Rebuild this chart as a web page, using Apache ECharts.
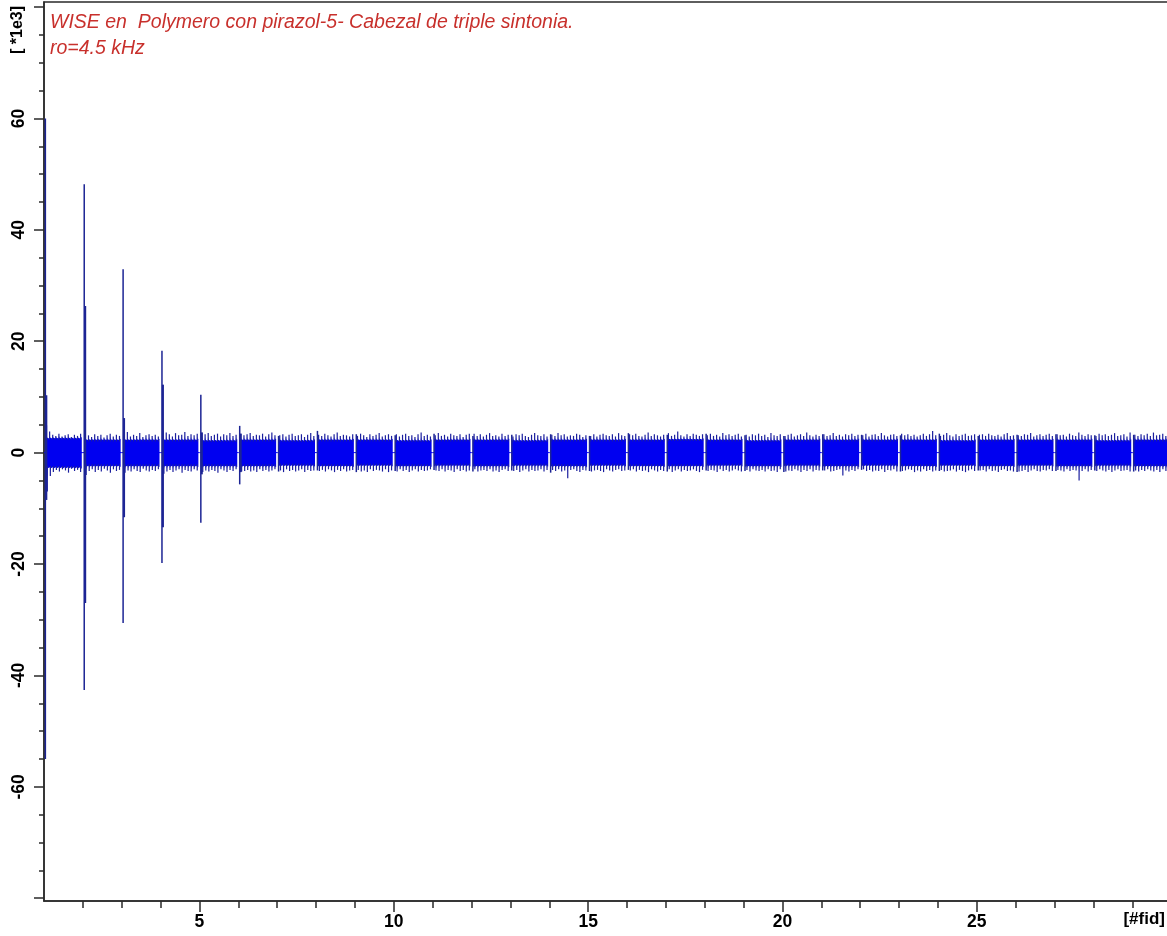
<!DOCTYPE html>
<html>
<head>
<meta charset="utf-8">
<script src="https://cdn.jsdelivr.net/npm/echarts@6/dist/echarts.min.js"></script>
<style>
  html, body { margin: 0; padding: 0; background: #ffffff; }
  #chart { width: 1167px; height: 936px; }
</style>
</head>
<body>
<div id="chart"></div>
<script>
// Serial FID display: 29 WISE FIDs laid side by side, amplitude in units of 1e3.
const titleLines = ['WISE en  Polymero con pirazol-5- Cabezal de triple sintonia.', 'ro=4.5 kHz'];
const xName = '[#fid]';
const yName = '[ *1e3]';

const fidCount = 29;
const xTickLabels = [5, 10, 15, 20, 25];
const yTickLabels = [-60, -40, -20, 0, 20, 40, 60];

// Echo spike at the start of each FID (max / min)
const startHigh = [60.0, 48.2, 32.9, 18.3, 10.4, 4.8, 3.0, 3.9, 3.3, 3.1, 3.4, 3.0, 3.2, 3.3, 3.0, 3.5,
                   3.2, 3.4, 3.1, 3.0, 3.3, 3.2, 3.1, 3.4, 3.0, 3.2, 3.3, 3.1, 3.2];
const startLow  = [-55.0, -42.6, -30.6, -19.8, -12.6, -5.7, -3.4, -3.2, -3.5, -3.3, -3.1, -3.4, -3.2, -3.6, -3.3, -3.1,
                   -3.4, -3.2, -3.3, -3.5, -3.2, -3.1, -3.4, -3.3, -3.2, -3.5, -3.3, -3.2, -3.4];
// Second point of the echo, just after the first
const secondHigh = [10.3, 26.3, 6.2, 12.2, 3.6, 3.4];
const secondLow  = [-8.5, -27.0, -11.6, -13.4, -3.9, -3.5];

// Solid noise band of each FID
const bandHigh = [2.8, 2.5, 2.5, 2.5, 2.4, 2.5, 2.4, 2.5, 2.5, 2.4, 2.5, 2.5, 2.4, 2.5, 2.5, 2.5,
                  2.6, 2.5, 2.4, 2.5, 2.5, 2.5, 2.5, 2.4, 2.5, 2.5, 2.5, 2.4, 2.5];
const bandLow  = [-2.9, -2.6, -2.6, -2.6, -2.6, -2.6, -2.5, -2.6, -2.5, -2.6, -2.5, -2.6, -2.5, -2.6, -2.5, -2.6,
                  -2.6, -2.5, -2.6, -2.5, -2.6, -2.5, -2.6, -2.5, -2.6, -2.5, -2.6, -2.5, -2.6];

// Noise peaks poking above / below the band, 12 per FID
const upperPeaks = [
  [4.9,3.8,3.2,3.0,3.4,2.9,3.1,3.3,2.8,3.2,3.0,3.4],
  [3.6,3.1,2.8,3.3,3.0,3.2,2.7,3.1,3.4,2.9,3.2,3.0],
  [3.3,3.7,2.9,3.2,3.0,3.5,2.8,3.1,3.3,3.0,3.2,2.9],
  [4.0,3.6,3.3,2.9,3.5,3.1,3.2,3.7,3.0,3.3,3.1,3.4],
  [3.6,3.3,3.5,3.0,3.2,3.4,2.9,3.3,3.1,3.5,3.0,3.2],
  [3.4,3.1,3.3,3.5,3.0,3.2,3.1,3.4,2.9,3.3,3.6,3.1],
  [3.1,3.3,2.9,3.2,3.4,3.0,3.1,3.3,2.8,3.2,3.5,3.0],
  [3.2,3.0,3.4,3.1,2.9,3.3,3.6,3.0,3.2,3.1,2.9,3.3],
  [3.0,3.4,3.1,2.8,3.3,3.0,3.2,3.5,2.9,3.1,3.3,3.0],
  [3.3,2.9,3.2,3.4,3.0,3.1,2.8,3.3,3.6,3.0,3.2,2.9],
  [3.1,3.5,3.0,3.2,2.9,3.4,3.1,3.0,3.3,2.8,3.2,3.4],
  [3.4,3.0,3.3,2.9,3.2,3.5,3.0,3.1,2.9,3.4,3.0,3.2],
  [2.9,3.3,3.1,3.4,3.0,2.8,3.2,3.5,3.1,3.0,3.3,2.9],
  [3.2,3.0,3.5,3.1,3.3,2.9,3.1,3.0,3.4,3.2,2.8,3.1],
  [3.0,3.3,2.9,3.2,3.4,3.1,3.0,3.3,2.9,3.5,3.1,3.0],
  [3.3,3.1,3.4,3.0,2.9,3.2,3.6,3.0,3.3,3.1,2.9,3.2],
  [3.5,3.0,3.2,3.8,3.1,2.9,3.3,3.0,3.4,3.2,3.0,3.3],
  [3.1,3.4,3.0,3.2,2.9,3.5,3.1,3.3,3.0,3.2,3.4,2.9],
  [3.2,2.9,3.3,3.1,3.4,3.0,3.2,2.8,3.5,3.1,3.0,3.3],
  [3.0,3.2,3.4,2.9,3.1,3.3,3.0,3.6,3.1,2.9,3.2,3.0],
  [3.3,3.0,3.1,3.5,3.0,3.2,2.9,3.3,3.1,3.4,3.0,3.2],
  [3.1,3.4,2.9,3.2,3.3,3.0,3.5,3.1,2.9,3.2,3.3,3.0],
  [3.4,3.1,3.3,3.0,3.2,2.9,3.1,3.4,3.0,3.3,3.9,3.1],
  [3.0,3.2,3.5,3.1,2.9,3.3,3.0,3.2,3.4,3.0,3.1,3.3],
  [3.2,3.3,3.0,3.4,3.1,3.0,3.2,2.9,3.3,3.5,3.0,3.1],
  [3.1,3.0,3.3,3.2,3.5,2.9,3.1,3.3,3.0,3.2,3.4,3.0],
  [3.3,3.1,3.2,2.9,3.4,3.1,3.0,3.6,3.2,3.0,3.3,3.1],
  [3.0,3.4,3.1,3.3,3.0,3.2,3.5,3.0,3.1,3.3,2.9,3.6],
  [3.2,3.0,3.3,3.1,3.4,3.0,3.6,3.1,3.2,3.4,3.0,3.2]
];
const lowerPeaks = [
  [-7.0,-4.2,-3.5,-3.1,-3.4,-3.0,-3.2,-3.6,-2.9,-3.3,-3.1,-3.5],
  [-4.0,-3.3,-3.0,-3.5,-3.1,-3.4,-2.9,-3.2,-3.6,-3.0,-3.3,-3.1],
  [-3.6,-3.2,-3.4,-3.0,-3.3,-3.5,-2.9,-3.2,-3.4,-3.1,-3.3,-3.0],
  [-3.8,-3.4,-3.1,-3.5,-3.2,-3.0,-3.6,-3.1,-3.3,-3.4,-3.0,-3.2],
  [-3.5,-3.2,-3.4,-3.1,-3.3,-3.6,-3.0,-3.2,-3.5,-3.1,-3.3,-3.0],
  [-3.4,-3.3,-3.1,-3.4,-3.2,-3.5,-3.0,-3.3,-3.1,-3.4,-3.2,-3.0],
  [-3.2,-3.5,-3.0,-3.3,-3.1,-3.4,-3.2,-3.0,-3.5,-3.1,-3.3,-3.2],
  [-3.3,-3.1,-3.4,-3.0,-3.2,-3.5,-3.1,-3.3,-3.0,-3.4,-3.2,-3.1],
  [-3.1,-3.4,-3.2,-3.5,-3.0,-3.3,-3.1,-3.2,-3.4,-3.0,-3.5,-3.2],
  [-3.4,-3.0,-3.3,-3.1,-3.5,-3.2,-3.0,-3.4,-3.1,-3.3,-3.2,-3.0],
  [-3.2,-3.3,-3.0,-3.4,-3.1,-3.2,-3.5,-3.0,-3.3,-3.1,-3.4,-3.2],
  [-3.0,-3.4,-3.2,-3.1,-3.3,-3.0,-3.4,-3.2,-3.5,-3.1,-3.0,-3.3],
  [-3.3,-3.1,-3.5,-3.2,-3.0,-3.4,-3.1,-3.3,-3.2,-3.0,-3.4,-3.1],
  [-3.1,-3.3,-3.0,-3.4,-3.2,-4.6,-3.1,-3.0,-3.3,-3.5,-3.1,-3.2],
  [-3.4,-3.2,-3.1,-3.3,-3.5,-3.0,-3.2,-3.4,-3.1,-3.0,-3.3,-3.2],
  [-3.2,-3.0,-3.4,-3.1,-3.3,-3.2,-3.5,-3.0,-3.2,-3.4,-3.1,-3.3],
  [-3.0,-3.5,-3.2,-3.0,-3.4,-3.1,-3.3,-3.2,-3.0,-3.3,-3.5,-3.1],
  [-3.3,-3.1,-3.2,-3.5,-3.0,-3.3,-3.1,-3.4,-3.2,-3.0,-3.2,-3.4],
  [-3.1,-3.4,-3.0,-3.2,-3.3,-3.1,-3.4,-3.0,-3.3,-3.2,-3.5,-3.0],
  [-3.4,-3.2,-3.3,-3.0,-3.2,-3.5,-3.1,-3.3,-3.0,-3.4,-3.1,-3.2],
  [-3.2,-3.0,-3.4,-3.3,-3.1,-3.0,-4.1,-3.2,-3.4,-3.1,-3.3,-3.0],
  [-3.0,-3.3,-3.1,-3.4,-3.2,-3.3,-3.0,-3.5,-3.1,-3.2,-3.0,-3.4],
  [-3.3,-3.2,-3.0,-3.1,-3.5,-3.2,-3.4,-3.0,-3.3,-3.1,-3.4,-3.2],
  [-3.1,-3.4,-3.3,-3.2,-3.0,-3.4,-3.1,-3.3,-3.5,-3.2,-3.0,-3.3],
  [-3.2,-3.1,-3.4,-3.0,-3.3,-3.2,-3.5,-3.1,-3.0,-3.3,-3.2,-3.4],
  [-3.4,-3.3,-3.1,-3.5,-3.2,-3.0,-3.3,-3.4,-3.1,-3.2,-3.0,-3.3],
  [-3.1,-3.2,-3.4,-3.0,-3.3,-3.1,-3.2,-5.0,-3.3,-3.0,-3.4,-3.1],
  [-3.3,-3.0,-3.2,-3.4,-3.1,-3.5,-3.2,-3.0,-3.3,-3.2,-3.1,-3.4],
  [-3.2,-3.4,-3.1,-3.3,-3.0,-3.2,-3.4,-3.1,-3.5,-3.0,-3.3,-3.2]
];

const signalFill = '#0000f0';
const signalEdge = '#1b1f9e';
const spikeColor = '#1c2494';

function range(a, b, step) {
  const out = [];
  for (let v = a; v <= b + 1e-9; v += step) out.push(v);
  return out;
}
const xMinorTicks = range(2, 29, 1).filter(v => v % 5 !== 0);
const xMajorTicks = [5, 10, 15, 20, 25, 30];
const yMinorTicks = range(-80, 80, 5).filter(v => v % 20 !== 0);
const yMajorTicks = range(-80, 80, 20);

function renderFid(params, api) {
  const i = api.value(0);          // 0-based FID index
  const x0 = i + 1;                 // FID i occupies [x0, x0 + 1]
  const xs = x0 + 0.035, xe = x0 + 0.972;
  const children = [];
  const line = (xa, ya, xb, yb, color, w) => {
    const p = api.coord([xa, ya]);
    const q = api.coord([xb, yb]);
    children.push({
      type: 'line',
      shape: { x1: p[0], y1: p[1], x2: q[0], y2: q[1] },
      style: { stroke: color, lineWidth: w }
    });
  };
  // zero line, visible in the gaps between FIDs
  line(x0, 0, x0 + 1, 0, signalFill, 1);

  const up = upperPeaks[i], lo = lowerPeaks[i];
  const n = up.length;
  const hi = bandHigh[i], lw = bandLow[i];
  const ux = k => xs + 0.03 + k * ((xe - xs - 0.06) / (n - 1));
  const lx = k => xs + 0.05 + k * ((xe - xs - 0.08) / (n - 1));

  // noise band with a ragged top and bottom edge following the peaks
  const pts = [api.coord([xs, hi])];
  for (let k = 0; k < n; k++) {
    pts.push(api.coord([ux(k) - 0.012, hi - 0.25]));
    pts.push(api.coord([ux(k), hi + (up[k] - hi) * 0.45]));
    pts.push(api.coord([ux(k) + 0.012, hi - 0.1]));
  }
  pts.push(api.coord([xe, hi]));
  pts.push(api.coord([xe, lw]));
  for (let k = n - 1; k >= 0; k--) {
    pts.push(api.coord([lx(k) + 0.012, lw + 0.1]));
    pts.push(api.coord([lx(k), lw + (lo[k] - lw) * 0.45]));
    pts.push(api.coord([lx(k) - 0.012, lw + 0.25]));
  }
  pts.push(api.coord([xs, lw]));
  children.push({
    type: 'polygon',
    shape: { points: pts },
    style: { fill: signalFill }
  });
  // individual noise peaks
  for (let k = 0; k < n; k++) {
    line(ux(k), hi - 0.5, ux(k), up[k], signalEdge, 1.2);
    line(lx(k), lw + 0.5, lx(k), lo[k], signalEdge, 1.2);
  }
  // echo spike at the start of the FID
  line(xs, startLow[i], xs, startHigh[i], spikeColor, 1.5);
  if (i < secondHigh.length) {
    line(xs + 0.025, secondLow[i], xs + 0.025, secondHigh[i], spikeColor, 2);
  }
  return { type: 'group', children };
}

const chart = echarts.init(document.getElementById('chart'), null, { renderer: 'canvas' });
const fontFam = '"Liberation Sans", Arial, sans-serif';
const axisLineStyle = { color: '#2a2a2a', width: 1.5 };

chart.setOption({
  backgroundColor: '#ffffff',
  animation: false,
  grid: {
    left: 44, top: 2, width: 1127.2, height: 899,
    outerBoundsMode: 'none', containLabel: false,
    show: true, borderColor: '#2a2a2a', borderWidth: 1.5, backgroundColor: 'transparent'
  },
  xAxis: [
    {
      type: 'value', min: 1, max: 30, position: 'bottom',
      axisLine: { show: true, onZero: false, lineStyle: axisLineStyle },
      axisTick: { show: true, length: 7, customValues: xMinorTicks, lineStyle: axisLineStyle },
      axisLabel: { show: false },
      splitLine: { show: false }
    },
    {
      type: 'value', min: 1, max: 30, position: 'bottom',
      axisLine: { show: false, onZero: false },
      axisTick: { show: true, length: 11, customValues: xMajorTicks, lineStyle: axisLineStyle },
      axisLabel: {
        show: true, customValues: xTickLabels, margin: 12,
        color: '#000', fontFamily: fontFam, fontWeight: 'bold', fontSize: 17.5
      },
      splitLine: { show: false }
    }
  ],
  yAxis: [
    {
      type: 'value', min: -80.5, max: 80.9, position: 'left',
      axisLine: { show: true, onZero: false, lineStyle: axisLineStyle },
      axisTick: { show: true, length: 5, customValues: yMinorTicks, lineStyle: axisLineStyle },
      axisLabel: { show: false },
      splitLine: { show: false }
    },
    {
      type: 'value', min: -80.5, max: 80.9, position: 'left',
      axisLine: { show: false, onZero: false },
      axisTick: { show: true, length: 10, customValues: yMajorTicks, lineStyle: axisLineStyle },
      axisLabel: {
        show: true, customValues: yTickLabels, rotate: 90, margin: 16,
        color: '#000', fontFamily: fontFam, fontWeight: 'bold', fontSize: 17.5
      },
      splitLine: { show: false }
    }
  ],
  graphic: [
    {
      type: 'text', left: 50, top: 13,
      style: { text: titleLines[0], fill: '#c8302c', font: 'italic 19.5px ' + fontFam }
    },
    {
      type: 'text', left: 50, top: 39,
      style: { text: titleLines[1], fill: '#c8302c', font: 'italic 19.5px ' + fontFam }
    },
    {
      type: 'text', x: 18, y: 30, rotation: Math.PI / 2,
      style: { text: yName, fill: '#000', font: 'bold 16px ' + fontFam, align: 'center', verticalAlign: 'middle' }
    },
    {
      type: 'text', right: 2, top: 911,
      style: { text: xName, fill: '#000', font: 'bold 17px ' + fontFam }
    }
  ],
  series: [
    {
      type: 'custom',
      xAxisIndex: 0, yAxisIndex: 0,
      renderItem: renderFid,
      clip: true,
      data: range(0, fidCount - 1, 1).map(i => [i])
    }
  ]
});
</script>
</body>
</html>
